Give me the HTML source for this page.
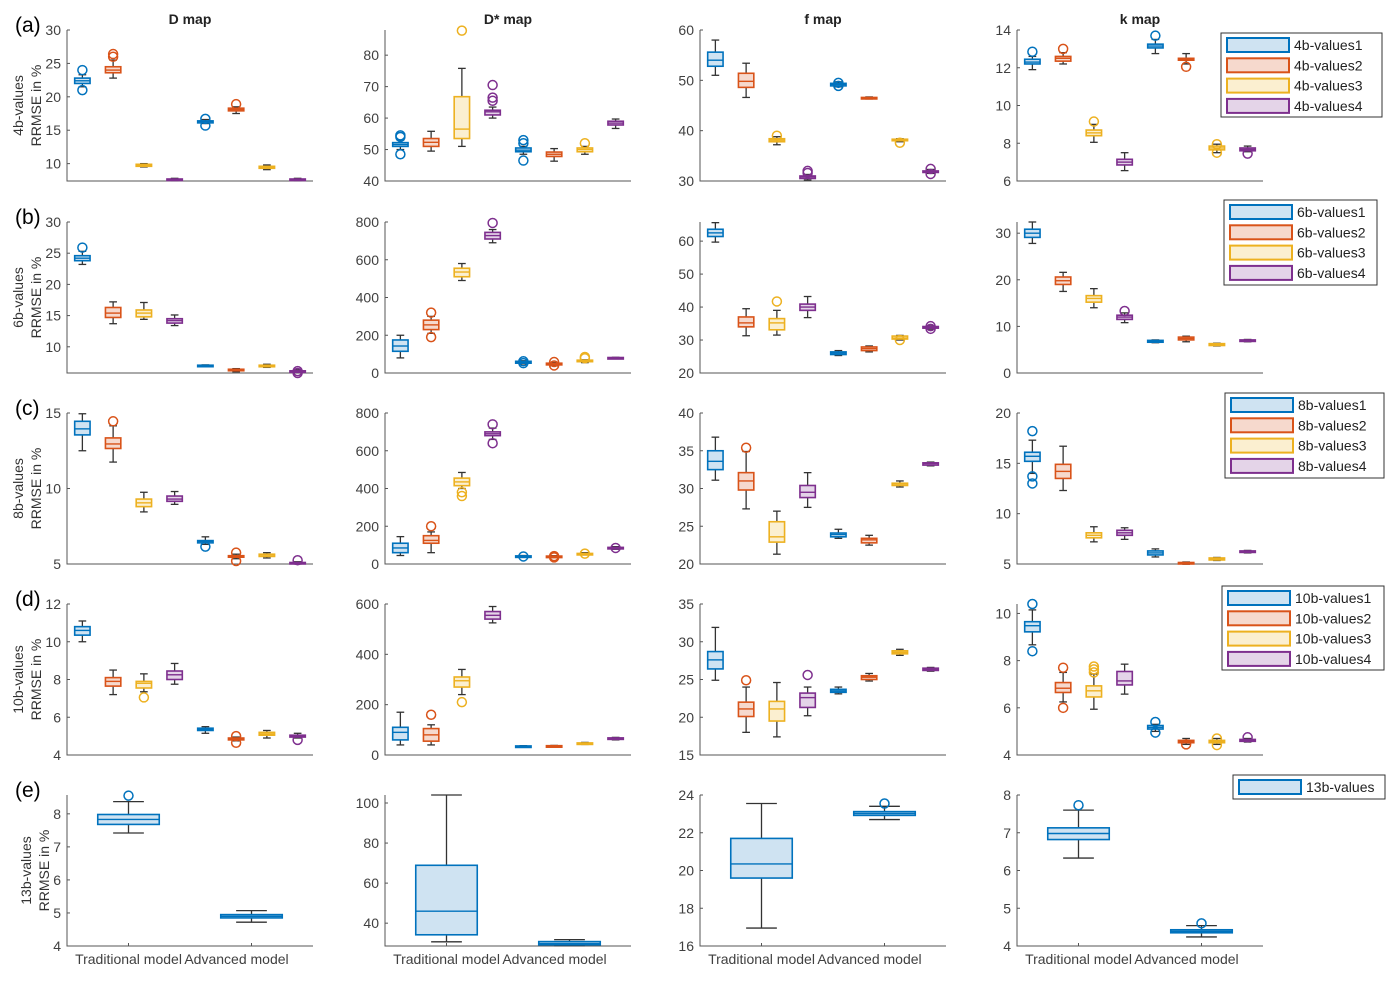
<!DOCTYPE html>
<html><head><meta charset="utf-8">
<style>
html,body{margin:0;padding:0;background:#fff;}
svg{display:block;font-family:"Liberation Sans",Arial,sans-serif;}
</style></head>
<body>
<svg id="chart" width="1387" height="990" viewBox="0 0 1387 990" xmlns="http://www.w3.org/2000/svg">
<g id="layer"></g>
</svg>
<script>
// ---- data: [lowerWhisker, q1, median, q3, upperWhisker] per box ----
const colTitles = ["D map","D* map","f map","k map"];
const rowLetters = ["(a)","(b)","(c)","(d)","(e)"];
const rowNames = ["4b-values","6b-values","8b-values","10b-values","13b-values"];
const modelLabels = ["Traditional model","Advanced  model"];

const a_D = [[21.5,22.0,22.4,22.8,23.3],[22.8,23.6,24,24.5,25.5],[9.5,9.6,9.75,9.9,10.0],[7.45,7.5,7.6,7.7,7.8],[16.0,16.1,16.3,16.4,16.6],[17.5,17.9,18.1,18.3,18.5],[9.1,9.3,9.45,9.6,9.8],[7.45,7.5,7.6,7.7,7.8]];
const a_Dout = [[24,21],[26,26.4],[],[],[16.7,15.7],[18.9],[],[]];
const a_Ds = [[50,51,51.6,52.2,53],[49.5,51,52.3,53.5,55.8],[51,53.5,56.5,66.8,75.8],[60,61,62,62.5,63.5],[48.5,49.3,49.8,50.5,51],[46.3,47.8,48.5,49.2,50.3],[48.5,49.3,50,50.5,51],[56.7,57.8,58.4,59,59.7]];
const a_Dsout = [[54,54.5,48.5],[],[87.8],[65.5,66.5,70.5],[52,53,46.5],[],[52],[]];
const a_f = [[51,52.8,54,55.6,58],[46.6,48.6,49.8,51.4,53.4],[37.2,37.8,38.1,38.4,38.8],[30.2,30.5,30.8,31,31.3],[48.7,48.9,49.2,49.4,49.7],[46.3,46.4,46.5,46.6,46.7],[37.8,38,38.1,38.3,38.4],[31.5,31.7,31.9,32,32.3]];
const a_fout = [[],[],[39],[32,31.6],[49.5,48.9],[],[37.6],[32.4,31.4]];
const a_k = [[11.9,12.2,12.3,12.45,12.6],[12.2,12.35,12.5,12.6,12.8],[8.05,8.4,8.55,8.7,9.0],[6.55,6.85,7.0,7.15,7.5],[12.75,13.05,13.15,13.25,13.5],[12.2,12.4,12.45,12.5,12.75],[7.5,7.65,7.75,7.85,7.95],[7.55,7.6,7.68,7.75,7.85]];
const a_kout = [[12.85],[13],[9.15],[],[13.7],[12.05],[7.95,7.5],[7.45]];

const b_D = [[23.2,23.8,24.2,24.6,25.3],[13.7,14.7,15.4,16.3,17.2],[14.4,14.8,15.4,15.9,17.1],[13.4,13.8,14.2,14.5,15.1],[6.8,6.85,6.95,7.05,7.1],[6.0,6.2,6.3,6.4,6.5],[6.7,6.8,6.95,7.05,7.2],[5.85,5.9,6.0,6.15,6.3]];
const b_Dout = [[25.9],[],[],[],[],[],[],[5.8,6.1]];
const b_Ds = [[80,115,143,175,200],[210,230,255,280,300],[490,510,535,555,580],[690,710,728,745,760],[48,52,57,62,65],[38,43,47,52,56],[55,60,64,68,70],[77,78,80,82,83]];
const b_Dsout = [[],[320,190],[],[795],[62,52],[58,40],[85,78],[]];
const b_f = [[59.7,61.4,62.5,63.6,65.6],[31.3,34,35.2,37,39.5],[31.5,33.1,35.2,36.5,39],[36.8,39,40,40.9,43.2],[25.3,25.6,26,26.4,26.8],[26.4,26.8,27.4,27.9,28.2],[30.0,30.3,30.6,31.2,31.4],[33.3,33.6,33.9,34.1,34.3]];
const b_fout = [[],[],[41.7],[],[],[],[30.0],[33.4,34.2]];
const b_k = [[27.8,29.1,30,30.85,32.4],[17.5,19,19.8,20.6,21.6],[14,15.2,16,16.6,18.1],[10.8,11.5,12,12.4,12.9],[6.5,6.6,6.8,7.0,7.1],[6.7,7.1,7.4,7.7,7.9],[5.8,5.9,6.1,6.3,6.4],[6.7,6.8,6.95,7.1,7.2]];
const b_kout = [[],[],[],[13.3],[],[],[],[]];

const c_D = [[12.5,13.55,13.95,14.45,14.95],[11.75,12.65,12.95,13.35,14.15],[8.45,8.8,9.05,9.3,9.75],[8.95,9.15,9.3,9.5,9.8],[6.3,6.4,6.5,6.55,6.8],[5.35,5.45,5.5,5.55,5.65],[5.4,5.5,5.6,5.65,5.75],[5.0,5.05,5.07,5.1,5.15]];
const c_Dout = [[],[14.45],[],[],[6.15],[5.75,5.2],[],[5.25]];
const c_Ds = [[45,60,85,110,145],[60,110,125,150,170],[400,415,435,455,485],[660,680,690,700,720],[35,37,40,43,45],[34,36,39,42,44],[48,50,53,56,60],[78,80,84,88,92]];
const c_Dsout = [[],[200],[380,360],[740,640],[40],[42,35],[55],[85]];
const c_f = [[31.1,32.5,33.6,35,36.8],[27.3,29.8,31,32.1,34.9],[21.3,22.9,23.6,25.6,27],[27.5,28.8,29.5,30.4,32.1],[23.4,23.6,23.9,24.1,24.6],[22.5,22.8,23.2,23.4,23.8],[30.2,30.4,30.6,30.7,31],[33.0,33.1,33.3,33.4,33.5]];
const c_fout = [[],[35.4],[],[],[],[],[],[]];
const c_k = [[14.0,15.2,15.7,16.1,17.3],[12.3,13.5,14.2,14.9,16.7],[7.2,7.6,7.85,8.1,8.7],[7.45,7.85,8.1,8.35,8.6],[5.7,5.9,6.1,6.3,6.5],[4.98,5.0,5.07,5.15,5.2],[5.35,5.4,5.5,5.6,5.65],[6.1,6.15,6.22,6.3,6.35]];
const c_kout = [[18.2,13.7,13.0],[],[],[],[],[],[],[]];

const d_D = [[10.0,10.35,10.6,10.8,11.1],[7.2,7.65,7.9,8.1,8.5],[7.35,7.55,7.8,7.9,8.3],[7.75,8.0,8.25,8.45,8.85],[5.15,5.3,5.36,5.42,5.5],[4.75,4.8,4.85,4.9,4.95],[4.9,5.05,5.12,5.2,5.3],[4.9,4.95,5.0,5.05,5.15]];
const d_Dout = [[],[],[7.05],[],[],[5.0,4.65],[],[4.8]];
const d_Ds = [[40,60,90,110,170],[40,55,80,105,120],[240,270,295,310,340],[525,540,555,570,590],[32,33,35,36,37],[34,35,36,37,38],[42,44,46,48,50],[60,63,65,68,70]];
const d_Dsout = [[],[160],[210],[],[],[],[],[]];
const d_f = [[24.9,26.4,27.6,28.7,31.9],[18,20.1,21.1,22,24],[17.4,19.5,21.1,22.1,24.6],[20.2,21.3,22.6,23.2,24],[23.1,23.3,23.5,23.7,24],[24.8,25.0,25.3,25.5,25.8],[28.2,28.4,28.6,28.8,29],[26.1,26.2,26.35,26.5,26.6]];
const d_fout = [[],[24.9],[],[25.6],[],[],[],[]];
const d_k = [[8.67,9.22,9.48,9.65,10.15],[6.25,6.65,6.83,7.07,7.5],[5.94,6.46,6.72,6.93,7.43],[6.58,6.97,7.14,7.54,7.85],[5.0,5.1,5.17,5.25,5.3],[4.45,4.52,4.57,4.62,4.7],[4.45,4.52,4.57,4.62,4.7],[4.55,4.58,4.62,4.66,4.7]];
const d_kout = [[10.4,8.4],[7.7,6.0],[7.75,7.63,7.5],[],[5.4,4.95],[4.45],[4.42,4.7],[4.75]];

const e_D = [[7.42,7.68,7.83,7.98,8.37],[4.72,4.85,4.9,4.95,5.07]];
const e_Dout = [[8.55],[]];
const e_Ds = [[30.7,34.2,46,68.9,104],[28.8,29.2,29.8,30.8,31.8]];
const e_Dsout = [[],[]];
const e_f = [[16.95,19.6,20.35,21.7,23.55],[22.7,22.92,23.02,23.12,23.4]];
const e_fout = [[],[23.55]];
const e_k = [[6.33,6.82,6.98,7.13,7.6],[4.24,4.35,4.39,4.43,4.54]];
const e_kout = [[7.73],[4.6]];

// y-axis limits and tick labels
const yLims = [[[7.4,30],[40,88],[30,60],[6,14]],[[5.8,30],[0,800],[20,65.8],[0,32.4]],[[5,15],[0,800],[20,40],[5,20]],[[4,12],[0,600],[15,35],[4,10.4]],[[4,8.57],[28.6,104],[16,24],[4,8]]];
const yTicks = [[[10,15,20,25,30],[40,50,60,70,80],[30,40,50,60],[6,8,10,12,14]],[[10,15,20,25,30],[0,200,400,600,800],[20,30,40,50,60],[0,10,20,30]],[[5,10,15],[0,200,400,600,800],[20,25,30,35,40],[5,10,15,20]],[[4,6,8,10,12],[0,200,400,600],[15,20,25,30,35],[4,6,8,10]],[[4,5,6,7,8],[40,60,80,100],[16,18,20,22,24],[4,5,6,7,8]]];

const stats = [[a_D,a_Ds,a_f,a_k],[b_D,b_Ds,b_f,b_k],[c_D,c_Ds,c_f,c_k],[d_D,d_Ds,d_f,d_k],[e_D,e_Ds,e_f,e_k]];
const outs = [[a_Dout,a_Dsout,a_fout,a_kout],[b_Dout,b_Dsout,b_fout,b_kout],[c_Dout,c_Dsout,c_fout,c_kout],[d_Dout,d_Dsout,d_fout,d_kout],[e_Dout,e_Dsout,e_fout,e_kout]];

// ---- layout / style ----
const COLORS = ["#0072BD","#D95319","#EDB120","#7E2F8E"];
const FILLS = ["#cfe3f2","#f6d9cd","#fbefd0","#e4d4e8"];
const colX = [67,385,700,1017];
const rowY = [30,222,413,604,795];
const W = 246, H = 151;
const labelShift = [0,-15];
const legendBoxes = [[1221,33,161,84],[1224,200,153,85],[1225,393,159,85],[1222,586,162,84],[1233,775,152,24]];
const NS = "http://www.w3.org/2000/svg";
const layer = document.getElementById("layer");

function mk(tag, attrs, parent){
  const el = document.createElementNS(NS, tag);
  for (const k in attrs) el.setAttribute(k, attrs[k]);
  (parent||layer).appendChild(el);
  return el;
}
function fmt(v){ return String(v); }

for (let r=0;r<5;r++){
  const lt = mk("text",{x:15,y:rowY[r]+2,"font-size":21,fill:"#000"});
  
  
  lt.textContent = rowLetters[r];
  const lx = r===4 ? 31 : 23;
  const cy = rowY[r]+H/2;
  const yl = mk("text",{transform:`translate(${lx},${cy}) rotate(-90)`,"text-anchor":"middle","font-size":14,fill:"#333"});
  
  
  const t1 = mk("tspan",{x:0,dy:0},yl); t1.textContent = rowNames[r];
  const t2 = mk("tspan",{x:0,dy:18},yl); t2.textContent = "RRMSE  in %";

  for (let c=0;c<4;c++){
    const x0=colX[c], y0=rowY[r];
    const [ymin,ymax]=yLims[r][c];
    const data=stats[r][c], od=outs[r][c];
    const n=data.length;
    const g = mk("g",{});
    
    
    const Y = v => y0 + H*(ymax-v)/(ymax-ymin);
    const X = i => x0 + W*(i+0.5)/n;
    const unit = W/n;
    if (r===0){
      const tt = mk("text",{x:x0+W/2,y:24,"text-anchor":"middle","font-size":14,"font-weight":"bold",fill:"#222"});
      
      
      tt.textContent = colTitles[c];
    }
    const ax = mk("path",{d:`M${x0},${y0}V${y0+H}H${x0+W}`,stroke:"#555",fill:"none","stroke-width":1},g);
    
    
    for (const t of yTicks[r][c]){
      const yy=Y(t);
      mk("line",{x1:x0,x2:x0+3,y1:yy,y2:yy,stroke:"#555"},g);
      const tl = mk("text",{x:x0-6,y:yy+5,"text-anchor":"end","font-size":14,fill:"#404040"},g);
      
      
      tl.textContent = fmt(t);
    }
    for (let i=0;i<n;i++){
      const xx=X(i);
      if (r===4){
        mk("line",{x1:xx,x2:xx,y1:y0+H,y2:y0+H-3,stroke:"#555"},g);
        const xl = mk("text",{x:xx+labelShift[i],y:y0+H+18,"text-anchor":"middle","font-size":14,fill:"#404040"},g);
        
        
        xl.textContent = modelLabels[i];
      }
    }
    for (let i=0;i<n;i++){
      const [lo,q1,md,q3,hi]=data[i];
      const ci = r===4 ? 0 : i%4;
      const col=COLORS[ci], fill=FILLS[ci];
      const xx=X(i), hw=unit*0.25, cw=unit*0.125;
      const bg = mk("g",{},g);
      
      
      mk("line",{x1:xx,x2:xx,y1:Y(hi),y2:Y(q3),stroke:"#333","stroke-width":1.3},bg);
      mk("line",{x1:xx,x2:xx,y1:Y(q1),y2:Y(lo),stroke:"#333","stroke-width":1.3},bg);
      mk("line",{x1:xx-cw,x2:xx+cw,y1:Y(hi),y2:Y(hi),stroke:"#333","stroke-width":1.3},bg);
      mk("line",{x1:xx-cw,x2:xx+cw,y1:Y(lo),y2:Y(lo),stroke:"#333","stroke-width":1.3},bg);
      const bh=Math.max(Y(q1)-Y(q3),1.5);
      mk("rect",{x:xx-hw,y:Y(q3),width:2*hw,height:bh,fill:fill,stroke:col,"stroke-width":1.6},bg);
      mk("line",{x1:xx-hw,x2:xx+hw,y1:Y(md),y2:Y(md),stroke:col,"stroke-width":1.4},bg);
      for (const o of od[i]){
        const oc = mk("circle",{cx:xx,cy:Y(o),r:4.5,fill:"none",stroke:col,"stroke-width":1.5},bg);
        
        
      }
    }
  }
  const [lx0,ly0,lw,lh]=legendBoxes[r];
  const lg = mk("g",{});
  
  
  mk("rect",{x:lx0,y:ly0,width:lw,height:lh,fill:"#fff",stroke:"#333","stroke-width":1},lg);
  const nEnt = r===4 ? 1 : 4;
  for (let k=0;k<nEnt;k++){
    const ey = ly0+5+k*20.3;
    const en = mk("g",{},lg);
    
    
    mk("rect",{x:lx0+6,y:ey,width:62,height:14,fill:FILLS[k],stroke:COLORS[k],"stroke-width":2},en);
    const et = mk("text",{x:lx0+73,y:ey+12,"font-size":14,fill:"#222"},en);
    et.textContent = r===4 ? "13b-values" : rowNames[r]+(k+1);
  }
}
</script>
</body></html>
